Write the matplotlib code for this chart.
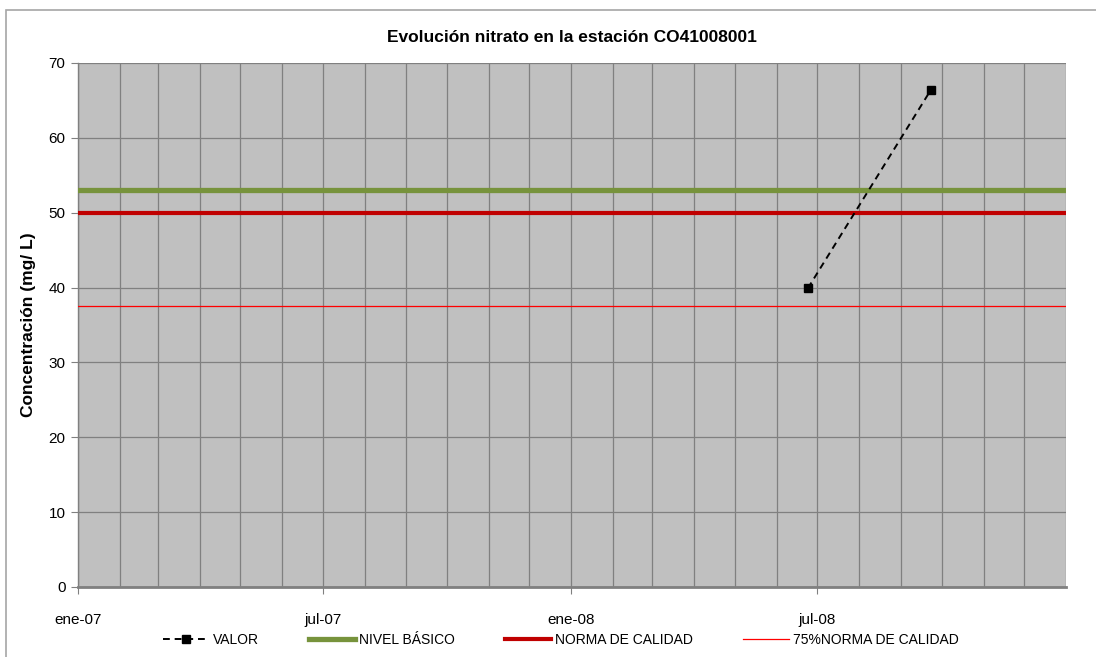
import numpy as np
import matplotlib.pyplot as plt
import matplotlib.dates as mdates
from matplotlib.patches import Rectangle
from datetime import date

plt.rcParams['font.family'] = ['Liberation Sans', 'DejaVu Sans']

# datos
fechas = [date(2008, 6, 24), date(2008, 9, 23)]
valor = [39.9, 66.4]
nivel_basico = 53.0
norma = 50.0
norma75 = 37.5
etiquetas_x = ['ene-07', 'jul-07', 'ene-08', 'jul-08']
ticks_x = [date(2007, 1, 1), date(2007, 7, 1), date(2008, 1, 1), date(2008, 7, 1)]
x_ini = date(2007, 1, 1)
x_fin = date(2009, 1, 1)

fig = plt.figure(figsize=(10.96, 6.57), dpi=100)
ax = fig.add_axes([78/1096, 1-587/657, (1066-78)/1096, (587-63)/657])

# borde del grafico (recortado a la derecha y abajo)
fig.patches.append(Rectangle((6/1096, -0.1), 1.2, 1-10/657+0.1, transform=fig.transFigure,
                             fill=False, edgecolor='#a6a6a6', linewidth=1.2))

ax.set_facecolor('#c0c0c0')

# lineas de referencia
ax.axhline(nivel_basico, color='#77933c', linewidth=3.8, label='NIVEL BÁSICO', zorder=3)
ax.axhline(norma, color='#c00000', linewidth=3.0, label='NORMA DE CALIDAD', zorder=3)
ax.axhline(norma75, color='#ff0000', linewidth=0.9, label='75%NORMA DE CALIDAD', zorder=3)
ax.plot(fechas, valor, color='black', linestyle=(0, (3.5, 2.5)), linewidth=1.4,
        marker='s', markersize=6, label='VALOR', zorder=4)

ax.set_xlim(x_ini, x_fin)
ax.set_ylim(0, 70)
ax.set_yticks(np.arange(0, 71, 10))
ax.set_xticks(ticks_x)
ax.set_xticklabels(etiquetas_x)
ax.xaxis.set_minor_locator(mdates.MonthLocator())

# rejilla
ax.grid(True, which='both', color='#808080', linewidth=0.9, zorder=1)
ax.set_axisbelow(True)

for s in ['top', 'right']:
    ax.spines[s].set_visible(False)
ax.spines['left'].set_color('#808080')
ax.spines['bottom'].set_color('#808080')
ax.spines['left'].set_linewidth(1.0)
ax.spines['bottom'].set_linewidth(2.0)

ax.tick_params(axis='y', which='major', length=5, color='#808080', labelsize=11, pad=4)
ax.tick_params(axis='x', which='major', length=5, color='#808080', labelsize=11, pad=14)
ax.tick_params(axis='x', which='minor', length=0)

ax.set_title('Evolución nitrato en la estación CO41008001', fontsize=12.5, fontweight='bold', pad=15)
ax.set_ylabel('Concentración (mg/ L)', fontsize=12.5, fontweight='bold', labelpad=9)

h, l = ax.get_legend_handles_labels()
orden = [3, 0, 1, 2]
fig.legend([h[i] for i in orden], [l[i] for i in orden], loc='center',
           bbox_to_anchor=(561/1096, 1-640/657), ncol=4, frameon=False, fontsize=10,
           handlelength=3.3, handletextpad=0.3, columnspacing=3.6)

fig.savefig('out.png', dpi=100)
